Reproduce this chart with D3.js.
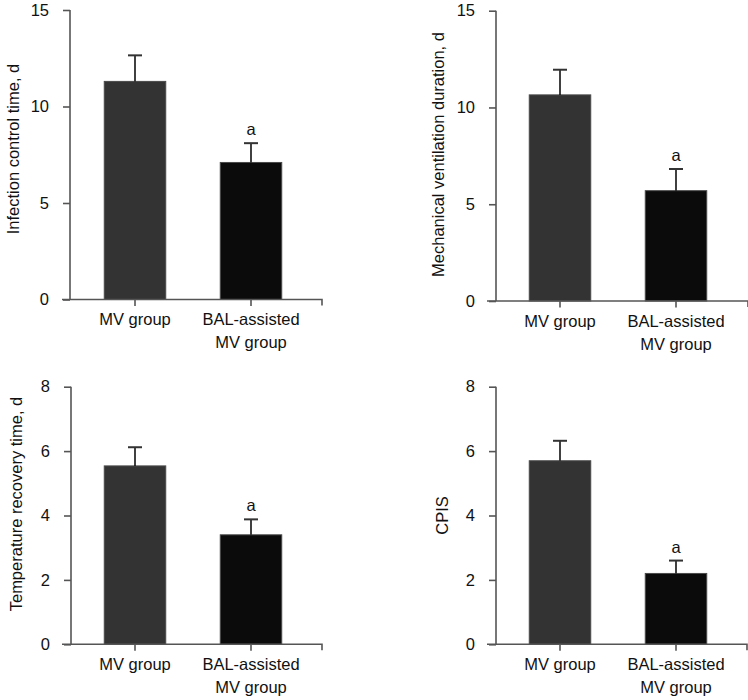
<!DOCTYPE html>
<html>
<head>
<meta charset="utf-8">
<script src="https://cdn.jsdelivr.net/npm/d3@7"></script>
<style>
  html, body { margin: 0; padding: 0; background: #fff; }
  svg { display: block; }
  text { font-family: "Liberation Sans", Arial, sans-serif; fill: #111; }
</style>
</head>
<body>
<svg id="chart" width="748" height="700"></svg>
<script>
// ---- data ----
const categories = [["MV group"], ["BAL-assisted", "MV group"]];
const infectionMeans = [11.3, 7.1];
const infectionErrors = [1.35, 1.0];
const ventilationMeans = [10.65, 5.7];
const ventilationErrors = [1.3, 1.12];
const temperatureMeans = [5.54, 3.4];
const temperatureErrors = [0.58, 0.48];
const cpisMeans = [5.7, 2.2];
const cpisErrors = [0.62, 0.4];
const ticks15 = [0, 5, 10, 15];
const ticks8 = [0, 2, 4, 6, 8];
const sigMarks = ["", "a"];
const titles = ["Infection control time, d", "Mechanical ventilation duration, d",
                "Temperature recovery time, d", "CPIS"];

// ---- layout (styling, not data) ----
const panels = [
  { title: titles[0], means: infectionMeans, errs: infectionErrors, ticks: ticks15, max: 15,
    axisX: 70, top: 10, bottom: 299.5, xStart: 62, xEnd: 322, band: [77, 309], titleX: 13, titleY: 149 },
  { title: titles[1], means: ventilationMeans, errs: ventilationErrors, ticks: ticks15, max: 15,
    axisX: 496, top: 10.7, bottom: 301, xStart: 487, xEnd: 748, band: [502, 734], titleX: 438, titleY: 154.5 },
  { title: titles[2], means: temperatureMeans, errs: temperatureErrors, ticks: ticks8, max: 8,
    axisX: 71, top: 386.7, bottom: 644.3, xStart: 62, xEnd: 322, band: [77, 309], titleX: 16, titleY: 504 },
  { title: titles[3], means: cpisMeans, errs: cpisErrors, ticks: ticks8, max: 8,
    axisX: 496, top: 386.7, bottom: 644.3, xStart: 487, xEnd: 747, band: [502, 734], titleX: 442, titleY: 515.5 }
];
const barColors = ["#333333", "#0b0b0b"];
const axisColor = "#555";
const fontSize = 16.5;

const svg = d3.select("#chart");

panels.forEach(p => {
  const g = svg.append("g");
  const y = d3.scaleLinear().domain([0, p.max]).range([p.bottom, p.top]);
  const x = d3.scaleBand().domain(d3.range(categories.length)).range(p.band)
              .paddingInner(0.47).paddingOuter(0.235);

  // y axis
  const yAxis = d3.axisLeft(y).tickValues(p.ticks).tickSize(7).tickPadding(14).tickSizeOuter(0);
  const ya = g.append("g").attr("transform", `translate(${p.axisX},0)`).call(yAxis);
  ya.attr("font-family", null).attr("font-size", null);
  ya.select(".domain").attr("stroke", axisColor).attr("stroke-width", 1.6)
    .attr("d", `M0,${p.bottom}V${p.top}`);
  ya.selectAll(".tick line").attr("stroke", axisColor).attr("stroke-width", 1.6);
  ya.selectAll(".tick text").attr("font-size", fontSize).attr("fill", "#111");

  // bars
  g.selectAll("rect.bar").data(p.means).join("rect")
    .attr("class", "bar")
    .attr("x", (d, i) => x(i))
    .attr("width", x.bandwidth())
    .attr("y", d => y(d))
    .attr("height", d => y(0) - y(d))
    .attr("fill", (d, i) => barColors[i])
    .attr("stroke", "#4a4a4a").attr("stroke-width", 1);

  // error bars (upper only)
  p.means.forEach((m, i) => {
    const cx = x(i) + x.bandwidth() / 2;
    const yt = y(m + p.errs[i]);
    g.append("line").attr("x1", cx).attr("x2", cx).attr("y1", y(m)).attr("y2", yt)
      .attr("stroke", "#111").attr("stroke-width", 1.6);
    g.append("line").attr("x1", cx - 7).attr("x2", cx + 7).attr("y1", yt).attr("y2", yt)
      .attr("stroke", "#333").attr("stroke-width", 2);
    if (sigMarks[i]) {
      g.append("text").attr("x", cx).attr("y", yt - 8)
        .attr("text-anchor", "middle").attr("font-size", fontSize).text(sigMarks[i]);
    }
  });

  // x axis
  const xa = g.append("g");
  xa.append("path").attr("fill", "none").attr("stroke", axisColor).attr("stroke-width", 1.6)
    .attr("d", `M${p.xStart},${p.bottom}H${p.xEnd}V${p.bottom + 6}`);
  categories.forEach((c, i) => {
    const cx = x(i) + x.bandwidth() / 2;
    xa.append("line").attr("x1", cx).attr("x2", cx).attr("y1", p.bottom).attr("y2", p.bottom + 6.5)
      .attr("stroke", axisColor).attr("stroke-width", 1.6);
    const t = xa.append("text").attr("text-anchor", "middle").attr("font-size", fontSize);
    c.forEach((line, k) => {
      t.append("tspan").attr("x", cx).attr("y", p.bottom + 25.5 + k * 23).text(line);
    });
  });

  // y title
  g.append("text")
    .attr("transform", `translate(${p.titleX},${p.titleY}) rotate(-90)`)
    .attr("text-anchor", "middle").attr("dominant-baseline", "central")
    .attr("font-size", fontSize).text(p.title);
});
</script>
</body>
</html>
